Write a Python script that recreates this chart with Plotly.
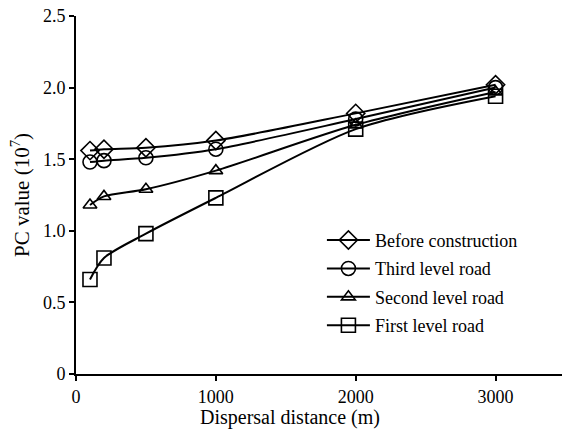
import plotly.graph_objects as go

distance = [100, 200, 500, 1000, 2000, 3000]
before_construction = [1.56, 1.57, 1.58, 1.63, 1.82, 2.02]
third_level = [1.48, 1.49, 1.51, 1.57, 1.78, 2.00]
second_level = [1.18, 1.24, 1.29, 1.42, 1.74, 1.97]
first_level = [0.66, 0.81, 0.98, 1.23, 1.71, 1.94]

x_tick_vals = [0, 1000, 2000, 3000]
x_tick_text = ["0", "1000", "2000", "3000"]
y_tick_vals = [0, 0.5, 1.0, 1.5, 2.0, 2.5]
y_tick_text = ["0", "0.5", "1.0", "1.5", "2.0", "2.5"]

series = [
    ("Before construction", before_construction, "diamond-open", 14),
    ("Third level road", third_level, "circle-open", 14),
    ("Second level road", second_level, "triangle-up-open", 12),
    ("First level road", first_level, "square-open", 14),
]

font_family = "Liberation Serif, Times New Roman, serif"

fig = go.Figure()
for i, (name, vals, sym, size) in enumerate(series):
    fig.add_trace(go.Scatter(
        x=distance, y=vals, name=name, mode="lines+markers", legendgroup=f"g{i}",
        line=dict(color="black", width=2, shape="spline", smoothing=0.8),
        marker=dict(symbol=sym, size=size, color="black", line=dict(width=1.6, color="black")),
    ))

fig.update_layout(
    width=563, height=432,
    margin=dict(l=76, r=1, t=16, b=58),
    paper_bgcolor="white", plot_bgcolor="white",
    font=dict(family=font_family, size=18, color="black"),
    showlegend=True,
    legend=dict(
        x=0.506, y=0.425, xanchor="left", yanchor="top",
        bgcolor="rgba(0,0,0,0)", borderwidth=0,
        font=dict(family=font_family, size=18, color="black"),
        tracegroupgap=2, itemsizing="trace", itemwidth=43,
    ),
    xaxis=dict(
        range=[0, 3475], tickvals=x_tick_vals, ticktext=x_tick_text,
        showline=True, linecolor="black", linewidth=2,
        ticks="outside", ticklen=5, tickwidth=2, tickcolor="black",
        showgrid=False, zeroline=False, automargin=False,
        ticklabeloverflow="allow",
        tickfont=dict(family=font_family, size=18, color="black"),
    ),
    yaxis=dict(
        range=[0, 2.5], tickvals=y_tick_vals, ticktext=y_tick_text,
        showline=True, linecolor="black", linewidth=2,
        ticks="outside", ticklen=5, tickwidth=2, tickcolor="black",
        showgrid=False, zeroline=False, automargin=False,
        ticklabeloverflow="allow",
        tickfont=dict(family=font_family, size=18, color="black"),
    ),
    annotations=[
        dict(text="Dispersal distance (m)", xref="paper", yref="paper",
             x=0.44, y=-0.1229, xanchor="center", yanchor="middle", showarrow=False,
             font=dict(family=font_family, size=20, color="black")),
        dict(text="PC value (10<sup>7</sup>)", xref="paper", yref="paper",
             x=-0.1152, y=0.5, xanchor="center", yanchor="middle", showarrow=False,
             textangle=-90, font=dict(family=font_family, size=21, color="black")),
    ],
)

fig.write_html("out.html", config={"displayModeBar": False},
               post_script="document.body.style.margin='0';")
